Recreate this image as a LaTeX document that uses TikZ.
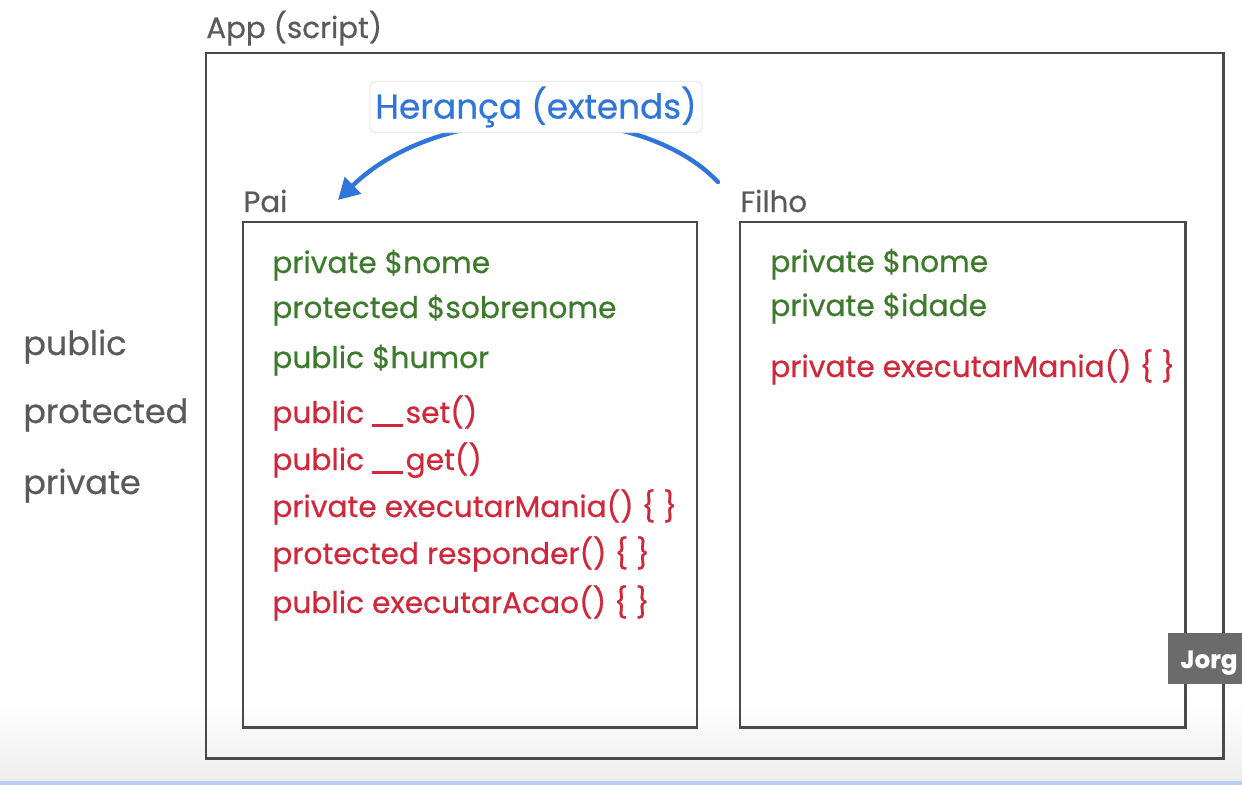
\documentclass[tikz,border=0pt]{standalone}
\usepackage{fontspec}
\setmainfont{Poppins}[FakeBold=0.6]
\usetikzlibrary{positioning,arrows.meta}

\definecolor{framegray}{HTML}{4A4A4A}
\definecolor{labelgray}{HTML}{5A5A5A}
\definecolor{attrgreen}{HTML}{3D7A2C}
\definecolor{methred}{HTML}{D0283A}
\definecolor{extblue}{HTML}{2F75DA}

\newcommand{\magicbar}{\rule[-0.12em]{1.05em}{0.085em}\kern0.08em}

\begin{document}
\begin{tikzpicture}[
		x=0.02cm, y=-0.02cm,
		frame/.style = {draw=framegray, line width=1.7pt},
		title/.style = {text=labelgray, anchor=base west, inner sep=0pt, font=\fontsize{16.7}{19}\selectfont},
		attr/.style = {text=attrgreen, anchor=base west, inner sep=0pt, font=\fontsize{16.9}{19}\selectfont},
		meth/.style = {text=methred, anchor=base west, inner sep=0pt, font=\fontsize{16.9}{19}\selectfont},
		level/.style = {text=labelgray, anchor=base west, inner sep=0pt, font=\fontsize{19}{22}\selectfont}
	]
	\useasboundingbox (0,0) rectangle (1242,785);
	\shade[top color=white, bottom color=black!7] (0,700) rectangle (1242,781);
	\fill[extblue!35] (0,781) rectangle (1242,785);

	% Boxes.
	\draw[frame] (206,53) rectangle (1223,758);
	\draw[frame] (243,222) rectangle (697,727);
	\draw[frame] (740,222) rectangle (1185,727);

	\node[title] (app) at (206,38) {App (script)};
	\node[title] (pai) at (243,212) {Pai};
	\node[title] (filho) at (740,212) {Filho};

	% Visibility levels.
	\node[level] (pub) at (23,355) {public};
	\node[level] (prot) at (23,423) {protected};
	\node[level] (priv) at (23,494) {private};

	% Pai members.
	\node[attr] (pnome) at (272,273) {private \$nome};
	\node[attr] (psobrenome) at (272,318) {protected \$sobrenome};
	\node[attr] (phumor) at (272,368) {public \$humor};
	\node[meth] (pset) at (272,423) {public \magicbar set()};
	\node[meth] (pget) at (272,470) {public \magicbar get()};
	\node[meth] (pmania) at (272,517) {private executarMania() \{ \}};
	\node[meth] (presp) at (272,564) {protected responder() \{ \}};
	\node[meth] (pacao) at (272,613) {public executarAcao() \{ \}};

	% Filho members.
	\node[attr] (fnome) at (770,272) {private \$nome};
	\node[attr] (fidade) at (770,316) {private \$idade};
	\node[meth] (fmania) at (770,377) {private executarMania() \{ \}};

	% Heranca.
	\coordinate (from) at (718,182);
	\coordinate (to) at (338,200);
	\draw[extblue, line width=2.5pt, line cap=round, -{Triangle[length=12pt,width=13pt]}]
		(from) .. controls (640,100) and (440,100) .. (to);
	\node[draw=black!12, fill=white, rounded corners=3pt, text=extblue, inner xsep=3pt, inner ysep=3pt,
		font=\fontsize{19.5}{22}\selectfont] (heranca) at (536,107) {Herança (extends)};

	% Name tag.
	\fill[black!58] (1168,633) rectangle (1242,684);
	\node[text=white, anchor=base west, inner sep=0pt, font=\bfseries\fontsize{14}{17}\selectfont] (tag) at (1180,668) {Jorg};
\end{tikzpicture}
\end{document}
